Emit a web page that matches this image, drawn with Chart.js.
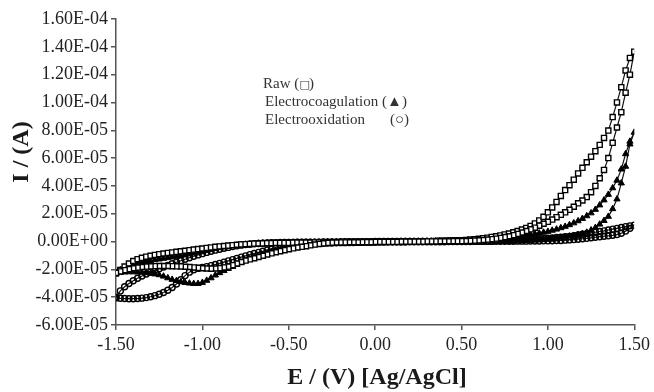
<!DOCTYPE html>
<html>
<head>
<meta charset="utf-8">
<script src="https://cdn.jsdelivr.net/npm/chart.js@4"></script>
<style>
  html, body { margin: 0; padding: 0; background: #fff; }
  #wrap { width: 654px; height: 392px; }
</style>
</head>
<body>
<div id="wrap"><canvas id="cvChart" width="654" height="392"></canvas></div>
<script>
// potential E / (V) vs Ag/AgCl, same grid for both scan directions
const potential = [
  -1.500,-1.475,-1.450,-1.425,-1.400,-1.375,-1.350,-1.325,-1.300,-1.275,
  -1.250,-1.225,-1.200,-1.175,-1.150,-1.125,-1.100,-1.075,-1.050,-1.025,
  -1.000,-0.975,-0.950,-0.925,-0.900,-0.875,-0.850,-0.825,-0.800,-0.775,
  -0.750,-0.725,-0.700,-0.675,-0.650,-0.625,-0.600,-0.575,-0.550,-0.525,
  -0.500,-0.475,-0.450,-0.425,-0.400,-0.375,-0.350,-0.325,-0.300,-0.275,
  -0.250,-0.225,-0.200,-0.175,-0.150,-0.125,-0.100,-0.075,-0.050,-0.025,
   0.000, 0.025, 0.050, 0.075, 0.100, 0.125, 0.150, 0.175, 0.200, 0.225,
   0.250, 0.275, 0.300, 0.325, 0.350, 0.375, 0.400, 0.425, 0.450, 0.475,
   0.500, 0.525, 0.550, 0.575, 0.600, 0.625, 0.650, 0.675, 0.700, 0.725,
   0.750, 0.775, 0.800, 0.825, 0.850, 0.875, 0.900, 0.925, 0.950, 0.975,
   1.000, 1.025, 1.050, 1.075, 1.100, 1.125, 1.150, 1.175, 1.200, 1.225,
   1.250, 1.275, 1.300, 1.325, 1.350, 1.375, 1.400, 1.425, 1.450, 1.475,
   1.500
];

// currents in units of 1E-05 A
const rawFwd = [
  -2.30,-2.05,-1.80,-1.58,-1.40,-1.27,-1.17,-1.09,-1.02,-0.96,
  -0.91,-0.86,-0.82,-0.78,-0.74,-0.70,-0.66,-0.62,-0.58,-0.54,
  -0.50,-0.46,-0.42,-0.38,-0.35,-0.32,-0.29,-0.26,-0.23,-0.21,
  -0.19,-0.17,-0.15,-0.14,-0.13,-0.12,-0.11,-0.10,-0.10,-0.09,
  -0.09,-0.08,-0.08,-0.07,-0.07,-0.07,-0.06,-0.06,-0.06,-0.05,
  -0.05,-0.05,-0.05,-0.04,-0.04,-0.04,-0.04,-0.03,-0.03,-0.03,
  -0.02,-0.02,-0.02,-0.01,-0.01,-0.01, 0.00, 0.00, 0.00, 0.01,
   0.01, 0.02, 0.02, 0.03, 0.04, 0.05, 0.06, 0.07, 0.08, 0.09,
   0.10, 0.12, 0.14, 0.17, 0.20, 0.24, 0.28, 0.33, 0.38, 0.44,
   0.51, 0.58, 0.66, 0.76, 0.86, 0.98, 1.12, 1.30, 1.52, 1.78,
   2.10, 2.45, 2.85, 3.28, 3.70, 4.05, 4.45, 4.90, 5.30, 5.70,
   6.10, 6.50, 6.95, 7.45, 7.98, 8.95,10.00,11.10,12.30,13.20,
  13.65
];
const rawRev = [
  -2.25,-2.15,-2.06,-1.98,-1.92,-1.87,-1.83,-1.80,-1.78,-1.77,
  -1.76,-1.76,-1.76,-1.77,-1.78,-1.79,-1.81,-1.83,-1.86,-1.89,
  -1.92,-1.94,-1.95,-1.94,-1.91,-1.86,-1.80,-1.70,-1.58,-1.47,
  -1.37,-1.28,-1.20,-1.11,-1.02,-0.93,-0.85,-0.77,-0.69,-0.62,
  -0.55,-0.49,-0.43,-0.38,-0.33,-0.27,-0.22,-0.17,-0.13,-0.10,
  -0.08,-0.07,-0.06,-0.06,-0.05,-0.05,-0.05,-0.04,-0.04,-0.04,
  -0.03,-0.03,-0.03,-0.02,-0.02,-0.02,-0.01,-0.01,-0.01, 0.00,
   0.00, 0.00, 0.01, 0.01, 0.01, 0.02, 0.02, 0.02, 0.03, 0.03,
   0.03, 0.04, 0.05, 0.07, 0.09, 0.11, 0.14, 0.17, 0.21, 0.26,
   0.32, 0.38, 0.46, 0.55, 0.65, 0.76, 0.88, 1.00, 1.14, 1.28,
   1.42, 1.58, 1.75, 1.92, 2.10, 2.28, 2.50, 2.75, 2.95, 3.20,
   3.55, 4.00, 4.55, 5.15, 6.00, 7.10, 8.20, 9.30,10.70,12.00,
  13.65
];

const ecFwd = [
  -2.25,-2.05,-1.90,-1.78,-1.68,-1.59,-1.51,-1.44,-1.38,-1.32,
  -1.27,-1.22,-1.17,-1.12,-1.07,-1.02,-0.96,-0.90,-0.84,-0.77,
  -0.70,-0.64,-0.57,-0.51,-0.45,-0.40,-0.35,-0.31,-0.27,-0.23,
  -0.20,-0.17,-0.15,-0.13,-0.11,-0.10,-0.09,-0.08,-0.08,-0.07,
  -0.07,-0.06,-0.06,-0.06,-0.05,-0.05,-0.05,-0.04,-0.04,-0.04,
  -0.03,-0.03,-0.03,-0.03,-0.02,-0.02,-0.02,-0.02,-0.01,-0.01,
  -0.01,-0.01, 0.00, 0.00, 0.00, 0.00, 0.01, 0.01, 0.01, 0.01,
   0.01, 0.01, 0.02, 0.02, 0.02, 0.02, 0.02, 0.02, 0.03, 0.03,
   0.03, 0.04, 0.05, 0.06, 0.08, 0.10, 0.12, 0.14, 0.17, 0.20,
   0.23, 0.27, 0.31, 0.35, 0.40, 0.45, 0.50, 0.55, 0.60, 0.66,
   0.72, 0.80, 0.88, 0.98, 1.08, 1.20, 1.33, 1.48, 1.65, 1.84,
   2.05, 2.30, 2.62, 2.98, 3.38, 3.85, 4.40, 5.20, 6.30, 7.20,
   7.85
];
const ecRev = [
  -2.25,-2.22,-2.20,-2.19,-2.19,-2.20,-2.22,-2.25,-2.29,-2.34,
  -2.40,-2.50,-2.62,-2.73,-2.82,-2.90,-2.96,-3.00,-3.03,-3.03,
  -2.95,-2.80,-2.62,-2.42,-2.25,-2.10,-1.95,-1.80,-1.65,-1.50,
  -1.37,-1.25,-1.14,-1.04,-0.94,-0.84,-0.74,-0.66,-0.59,-0.53,
  -0.47,-0.41,-0.35,-0.30,-0.25,-0.21,-0.17,-0.14,-0.12,-0.10,
  -0.09,-0.08,-0.07,-0.07,-0.06,-0.06,-0.05,-0.05,-0.05,-0.04,
  -0.04,-0.04,-0.03,-0.03,-0.03,-0.02,-0.02,-0.02,-0.01,-0.01,
  -0.01, 0.00, 0.00, 0.00, 0.01, 0.01, 0.01, 0.01, 0.02, 0.02,
   0.02, 0.02, 0.03, 0.03, 0.03, 0.03, 0.04, 0.04, 0.04, 0.05,
   0.05, 0.06, 0.07, 0.08, 0.09, 0.10, 0.11, 0.13, 0.15, 0.17,
   0.19, 0.22, 0.25, 0.29, 0.33, 0.38, 0.43, 0.49, 0.56, 0.66,
   0.82, 1.00, 1.24, 1.50, 1.80, 2.35, 3.05, 4.20, 5.40, 7.00,
   7.85
];

const eoFwd = [
  -4.00,-3.55,-3.25,-3.02,-2.82,-2.64,-2.48,-2.33,-2.20,-2.07,
  -1.95,-1.83,-1.71,-1.60,-1.49,-1.38,-1.27,-1.16,-1.06,-0.96,
  -0.87,-0.78,-0.70,-0.62,-0.55,-0.48,-0.42,-0.36,-0.31,-0.26,
  -0.22,-0.19,-0.16,-0.14,-0.12,-0.10,-0.09,-0.08,-0.07,-0.07,
  -0.06,-0.06,-0.05,-0.05,-0.05,-0.04,-0.04,-0.04,-0.03,-0.03,
  -0.03,-0.03,-0.02,-0.02,-0.02,-0.02,-0.01,-0.01,-0.01,-0.01,
   0.00, 0.00, 0.00, 0.00, 0.00, 0.00, 0.00, 0.00, 0.01, 0.01,
   0.01, 0.01, 0.01, 0.01, 0.01, 0.01, 0.01, 0.01, 0.02, 0.02,
   0.02, 0.02, 0.02, 0.03, 0.03, 0.03, 0.04, 0.04, 0.05, 0.06,
   0.07, 0.08, 0.09, 0.10, 0.12, 0.14, 0.16, 0.18, 0.20, 0.22,
   0.24, 0.26, 0.29, 0.31, 0.34, 0.37, 0.42, 0.47, 0.52, 0.57,
   0.62, 0.67, 0.72, 0.77, 0.83, 0.89, 0.95, 1.01, 1.07, 1.13,
   1.18
];
const eoRev = [
  -4.05,-4.08,-4.10,-4.11,-4.11,-4.10,-4.07,-4.03,-3.97,-3.89,
  -3.79,-3.66,-3.50,-3.30,-3.05,-2.75,-2.45,-2.20,-2.03,-1.93,
  -1.86,-1.80,-1.73,-1.65,-1.57,-1.48,-1.39,-1.30,-1.21,-1.12,
  -1.03,-0.94,-0.86,-0.78,-0.70,-0.62,-0.55,-0.49,-0.43,-0.38,
  -0.33,-0.29,-0.25,-0.22,-0.19,-0.17,-0.15,-0.13,-0.12,-0.11,
  -0.10,-0.09,-0.08,-0.08,-0.07,-0.07,-0.06,-0.06,-0.05,-0.05,
  -0.05,-0.04,-0.04,-0.04,-0.03,-0.03,-0.03,-0.03,-0.02,-0.02,
  -0.02,-0.02,-0.01,-0.01,-0.01,-0.01,-0.01, 0.00, 0.00, 0.00,
   0.00, 0.00, 0.00, 0.01, 0.01, 0.01, 0.01, 0.01, 0.02, 0.02,
   0.02, 0.02, 0.02, 0.03, 0.03, 0.03, 0.04, 0.04, 0.04, 0.05,
   0.05, 0.06, 0.07, 0.08, 0.10, 0.12, 0.14, 0.17, 0.20, 0.23,
   0.27, 0.31, 0.35, 0.38, 0.41, 0.45, 0.50, 0.60, 0.75, 0.95,
   1.18
];

const seriesNames = ['Raw', 'Electrocoagulation', 'Electrooxidation'];
const xTicks = [-1.5, -1.0, -0.5, 0.0, 0.5, 1.0, 1.5];

// one closed loop: forward scan up to +1.5 V, then back down to -1.5 V
function buildLoop(fwd, rev) {
    const pts = [];
    for (let i = 0; i < potential.length; i++) {
        pts.push({ x: potential[i], y: fwd[i] * 1e-5 });
    }
    for (let i = potential.length - 2; i >= 0; i--) {
        pts.push({ x: potential[i], y: rev[i] * 1e-5 });
    }
    return pts;
}

function sciLabel(v) {
    if (Math.abs(v) < 1e-12) return '0.00E+00';
    const parts = v.toExponential(2).split('e');
    const n = parseInt(parts[1], 10);
    return parts[0] + 'E' + (n < 0 ? '-' : '+') + String(Math.abs(n)).padStart(2, '0');
}

// axis titles and the text legend
const textPlugin = {
    id: 'texts',
    afterDraw(chart) {
        const ctx = chart.ctx;
        ctx.save();
        ctx.fillStyle = '#1a1a1a';
        ctx.font = 'bold 24px "Liberation Serif"';
        ctx.textAlign = 'center';
        ctx.textBaseline = 'middle';
        ctx.fillText('E / (V) [Ag/AgCl]', 377, 378);
        ctx.translate(22, 152);
        ctx.rotate(-Math.PI / 2);
        ctx.fillText('I / (A)', 0, 0);
        ctx.restore();

        ctx.save();
        ctx.fillStyle = '#333';
        ctx.font = '15px "Liberation Serif", "DejaVu Sans"';
        ctx.textAlign = 'left';
        ctx.textBaseline = 'middle';
        ctx.fillText(seriesNames[0] + ' (', 263, 84);
        ctx.fillText(')', 309, 84);
        ctx.fillText(seriesNames[1] + ' (\u25B2)', 265, 102);
        ctx.fillText(seriesNames[2], 265, 120);
        ctx.fillText('(\u25CB)', 390, 120);
        // bold square glyph inside the Raw parentheses
        ctx.font = 'bold 11px "DejaVu Sans"';
        ctx.fillText('\u25A1', 299.5, 85);
        ctx.restore();
    }
};

const ctx = document.getElementById('cvChart');

new Chart(ctx, {
    type: 'scatter',
    data: {
        datasets: [
            {
                label: seriesNames[0],
                data: buildLoop(rawFwd, rawRev),
                showLine: true,
                borderColor: '#111',
                borderWidth: 1.2,
                pointStyle: 'rect',
                pointRadius: 3.6,
                pointBackgroundColor: '#fff',
                pointBorderColor: '#000',
                pointBorderWidth: 1.4
            },
            {
                label: seriesNames[1],
                data: buildLoop(ecFwd, ecRev),
                showLine: true,
                borderColor: '#111',
                borderWidth: 1.2,
                pointStyle: 'triangle',
                pointRadius: 3.6,
                pointBackgroundColor: '#000',
                pointBorderColor: '#000',
                pointBorderWidth: 1
            },
            {
                label: seriesNames[2],
                data: buildLoop(eoFwd, eoRev),
                showLine: true,
                borderColor: '#111',
                borderWidth: 1.2,
                pointStyle: 'circle',
                pointRadius: 3,
                pointBackgroundColor: 'rgba(255,255,255,0)',
                pointBorderColor: '#000',
                pointBorderWidth: 1.4
            }
        ]
    },
    options: {
        responsive: false,
        animation: false,
        layout: { padding: { left: 0, right: 17, top: 19, bottom: 0 } },
        plugins: {
            legend: { display: false },
            tooltip: { enabled: false }
        },
        scales: {
            x: {
                type: 'linear',
                min: -1.5,
                max: 1.5,
                afterBuildTicks: (scale) => { scale.ticks = xTicks.map(v => ({ value: v })); },
                afterFit: (scale) => { scale.height = 67; },
                ticks: {
                    color: '#222',
                    font: { family: 'Liberation Serif', size: 18 },
                    padding: 4,
                    maxRotation: 0,
                    callback: (v) => Number(v).toFixed(2)
                },
                grid: { drawOnChartArea: false, drawTicks: true, tickLength: 5, color: '#555', lineWidth: 1.5 },
                border: { display: true, color: '#555', width: 1.5 }
            },
            y: {
                type: 'linear',
                min: -6e-5,
                max: 1.6e-4,
                afterFit: (scale) => { scale.width = 116; },
                ticks: {
                    stepSize: 2e-5,
                    color: '#222',
                    font: { family: 'Liberation Serif', size: 18 },
                    padding: 3,
                    callback: (v) => sciLabel(v)
                },
                grid: { drawOnChartArea: false, drawTicks: true, tickLength: 5, color: '#555', lineWidth: 1.5 },
                border: { display: true, color: '#555', width: 1.5 }
            }
        }
    },
    plugins: [textPlugin]
});
</script>
</body>
</html>
